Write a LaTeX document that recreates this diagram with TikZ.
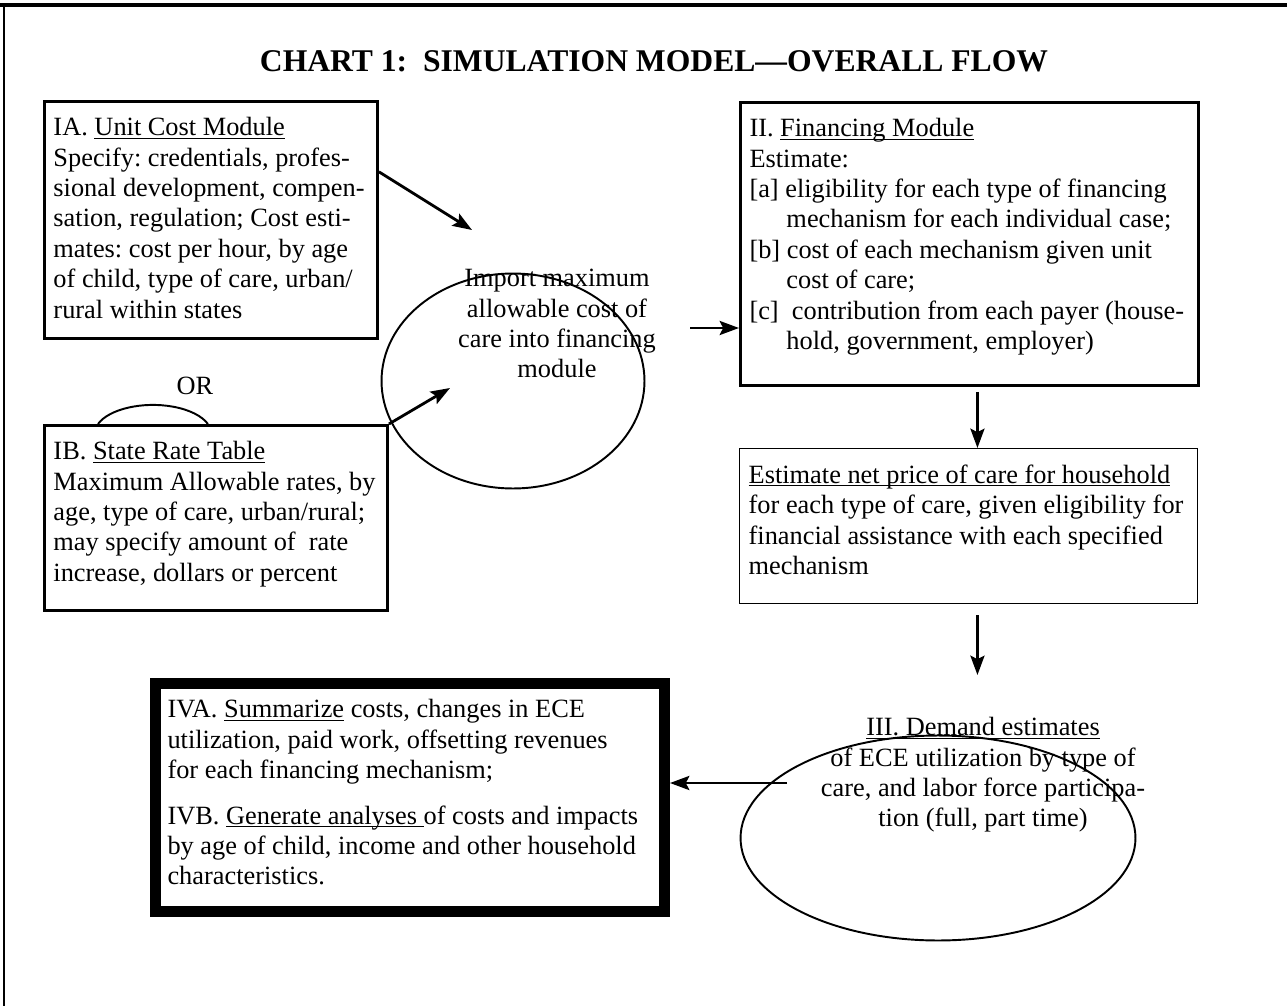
\documentclass[tikz,border=0pt]{standalone}
\usepackage{fontspec}
\setmainfont{Liberation Serif}
\usepackage{tikz}
\usetikzlibrary{calc,arrows.meta,shapes.geometric}

\newcommand{\undl}[1]{\underline{\raisebox{0pt}[\height][0pt]{#1}}}
\newcommand{\boxtext}[3]{\parbox[t][#2][t]{#1}{\raggedright #3}}
\frenchspacing

\begin{document}
\begin{tikzpicture}[x=0.02cm, y=-0.02cm, font=\fontsize{15}{17.3}\selectfont,
  modbox/.style={draw, line width=1.7pt, anchor=north west, inner xsep=0.18cm, inner ysep=0.32cm},
  thinbox/.style={modbox, line width=0.8pt},
  heavybox/.style={modbox, line width=6.3pt, inner xsep=0.24cm},
  ellip/.style={draw, ellipse, line width=1.1pt, inner sep=0pt},
  flow/.style={-{Stealth[length=11pt,width=8pt,inset=2pt]}, line width=1.6pt},
  lbl/.style={inner sep=0pt, align=center}]
  \useasboundingbox (0,0) rectangle (1287,1006);
  \draw[line width=1.8pt] (0,5) -- (1287,5);
  \draw[line width=1.2pt] (4,5) -- (4,1006);

  \node[anchor=base, font=\fontsize{18}{21}\selectfont\bfseries] (title) at (654,72) {CHART 1:\ \ SIMULATION MODEL---OVERALL FLOW};

  \node[modbox] (unitcost) at (43,100) {\boxtext{6.3cm}{4.1cm}{IA. \undl{Unit Cost Module}\\ Specify: credentials, profes-\\ sional development, compen-\\ sation, regulation; Cost esti-\\ mates: cost per hour, by age\\ of child, type of care, urban/\\ rural within states}};
  \node[anchor=base] (ortxt) at (195,395) {OR};
  \draw[line width=1.1pt] (98,424) arc[start angle=160, end angle=20, x radius=1.17cm, y radius=0.58cm];
  \node[modbox] (ratetable) at (43,424) {\boxtext{6.5cm}{3.06cm}{IB. \undl{State Rate Table}\\ Maximum Allowable rates, by\\ age, type of care, urban/rural;\\ may specify amount of\ \ rate\\ increase, dollars or percent}};

  \node[ellip, minimum width=5.26cm, minimum height=4.3cm] (importell) at (513,381) {};
  \node[lbl, anchor=north] (importtxt) at (557,269) {Import maximum\\ allowable cost of\\ care into financing\\ module};

  \node[modbox] (finance) at (739,101) {\boxtext{8.8cm}{5.02cm}{II. \undl{Financing Module}\\ Estimate:\\ {[a]} eligibility for each type of financing\\ \hspace*{0.74cm}mechanism for each individual case;\\ {[b]} cost of each mechanism given unit\\ \hspace*{0.74cm}cost of care;\\ {[c]}\ \ contribution from each payer (house-\\ \hspace*{0.74cm}hold, government, employer)}};
  \node[thinbox] (netprice) at (739,448) {\boxtext{8.8cm}{2.46cm}{\undl{Estimate net price of care for household}\\ for each type of care, given eligibility for\\ financial assistance with each specified\\ mechanism}};

  \node[ellip, minimum width=7.9cm, minimum height=4.1cm] (demandell) at (938,838) {};
  \node[lbl, anchor=north] (demandtxt) at (983,717) {\undl{III. Demand estimates}\\ of ECE utilization by type of\\ care, and labor force participa-\\ tion (full, part time)};

  \node[heavybox] (summary) at (150,678) {\boxtext{9.7cm}{3.92cm}{IVA. \undl{Summarize} costs, changes in ECE\\ utilization, paid work, offsetting revenues\\ for each financing mechanism;\\[0.3cm] IVB. \undl{Generate analyses\ }of costs and impacts\\ by age of child, income and other household\\ characteristics.}};

  \coordinate (importtop) at (472,230);
  \coordinate (importin) at (450,388);
  \coordinate (importout) at (690,328);
  \coordinate (flowx) at ([xshift=0.16cm]finance.south);
  \coordinate (demandtop) at (978,675);
  \coordinate (demandout) at (787,783);
  \draw[flow] (unitcost.16) -- (importtop);
  \draw[flow] (ratetable.north east) -- (importin);
  \draw[flow] (importout) -- (importout -| finance.west);
  \draw[flow, shorten <=0.1cm] (flowx) -- (flowx |- netprice.north);
  \draw[flow, shorten <=0.22cm] (flowx |- netprice.south) -- (flowx |- demandtop);
  \draw[flow] (demandout) -- (demandout -| summary.east);
\end{tikzpicture}
\end{document}
